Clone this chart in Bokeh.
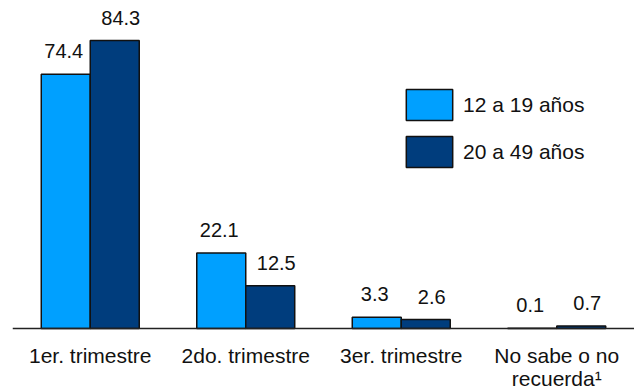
from bokeh.plotting import figure
from bokeh.models import FactorRange, Range1d, Span, Legend, LegendItem, ColumnDataSource
from bokeh.transform import dodge
from bokeh.core.properties import value
from bokeh.embed import file_html
from bokeh.resources import INLINE

# ---- data ----
categories = ["1er. trimestre", "2do. trimestre", "3er. trimestre", "No sabe o no\nrecuerda\u00b9"]
series_names = ["12 a 19 a\u00f1os", "20 a 49 a\u00f1os"]
teen_values = [74.4, 22.1, 3.3, 0.1]
adult_values = [84.3, 12.5, 2.6, 0.7]

# ---- styling ----
FONT = "Liberation Sans"
LIGHT = "#00A0FF"
DARK = "#003D7D"
W, H = 634, 390
BASE_PX = 328          # distance from frame top to the zero line
PX_PER_UNIT = 3.416

src = ColumnDataSource(dict(
    cat=categories,
    teen=teen_values,
    adult=adult_values,
    teen_lbl=[f"{v:.1f}" for v in teen_values],
    adult_lbl=[f"{v:.1f}" for v in adult_values],
    zero=[0] * len(categories),
))

p = figure(
    width=W, height=H,
    x_range=FactorRange(*categories, range_padding=0),
    y_range=Range1d(-(H - BASE_PX) / PX_PER_UNIT, BASE_PX / PX_PER_UNIT),
    output_backend="svg", toolbar_location=None,
    min_border_left=12, min_border_right=0, min_border_top=0, min_border_bottom=0,
)
p.outline_line_color = None
p.xgrid.visible = False
p.ygrid.visible = False
p.xaxis.visible = False
p.yaxis.visible = False
p.background_fill_color = "white"
p.border_fill_color = "white"

BW = 0.315
r1 = p.vbar(x=dodge("cat", -BW / 2, range=p.x_range), top="teen", width=BW, source=src,
            fill_color=LIGHT, line_color="#111111", line_width=1.5)
r2 = p.vbar(x=dodge("cat", BW / 2, range=p.x_range), top="adult", width=BW, source=src,
            fill_color=DARK, line_color="#111111", line_width=1.5)

# baseline
p.add_layout(Span(location=0, dimension="width", line_color="#222222", line_width=1.5))

# value labels
p.text(x=dodge("cat", -BW / 2, range=p.x_range), y="teen", text="teen_lbl", source=src,
       x_offset=-2, y_offset=-23, text_align="center", text_baseline="alphabetic",
       text_font=value(FONT), text_font_size="20px", text_color="#111111")
p.text(x=dodge("cat", BW / 2, range=p.x_range), y="adult", text="adult_lbl", source=src,
       x_offset=6, y_offset=-23, text_align="center", text_baseline="alphabetic",
       text_font=value(FONT), text_font_size="20px", text_color="#111111")

# category labels
p.text(x="cat", y="zero", text="cat", source=src,
       y_offset=15, text_align="center", text_baseline="top", text_line_height=1.02,
       text_font=value(FONT), text_font_size="21px", text_color="#111111")

legend = Legend(items=[LegendItem(label=series_names[0], renderers=[r1]),
                       LegendItem(label=series_names[1], renderers=[r2])],
                location=(388, H - 171), orientation="vertical")
legend.glyph_width = 58
legend.glyph_height = 39
legend.spacing = 8
legend.padding = 0
legend.margin = 0
legend.label_standoff = 5
legend.border_line_color = None
legend.background_fill_alpha = 0
legend.label_text_font = FONT
legend.label_text_font_size = "21px"
legend.label_text_color = "#111111"
p.add_layout(legend, "center")

open("out.html", "w").write(file_html(p, INLINE))
